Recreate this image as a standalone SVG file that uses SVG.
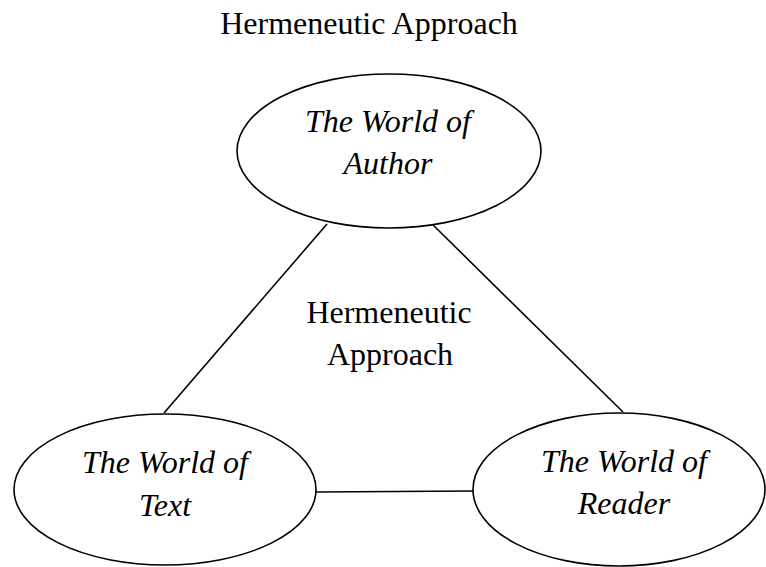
<svg xmlns="http://www.w3.org/2000/svg" width="766" height="567" viewBox="0 0 766 567">
<style>
.t{font-family:"Liberation Serif","Times New Roman",serif;font-size:32px;fill:#000;text-anchor:middle}
.i{font-style:italic}
.e{fill:#fff;stroke:#000;stroke-width:1.6}
.c{stroke:#000;stroke-width:1.6;fill:none}
</style>
<rect width="766" height="567" fill="#fff"/>
<text class="t" x="369" y="34">Hermeneutic Approach</text>
<g id="connectors">
<line class="c" x1="327" y1="224" x2="164" y2="413"/>
<line class="c" x1="430" y1="222" x2="623" y2="412"/>
<line class="c" x1="316" y1="492" x2="473" y2="491"/>
</g>
<g id="center">
<text class="t" x="389" y="323">Hermeneutic</text>
<text class="t" x="390" y="365">Approach</text>
</g>
<g id="author">
<ellipse class="e" cx="389" cy="151" rx="152" ry="77"/>
<text class="t i" x="388" y="132">The World of</text>
<text class="t i" x="388" y="174">Author</text>
</g>
<g id="text">
<ellipse class="e" cx="165" cy="489.5" rx="151" ry="75.5"/>
<text class="t i" x="165" y="473">The World of</text>
<text class="t i" x="165" y="516">Text</text>
</g>
<g id="reader">
<ellipse class="e" cx="619" cy="489.5" rx="146" ry="76.5"/>
<text class="t i" x="624" y="472">The World of</text>
<text class="t i" x="624" y="514">Reader</text>
</g>
</svg>
